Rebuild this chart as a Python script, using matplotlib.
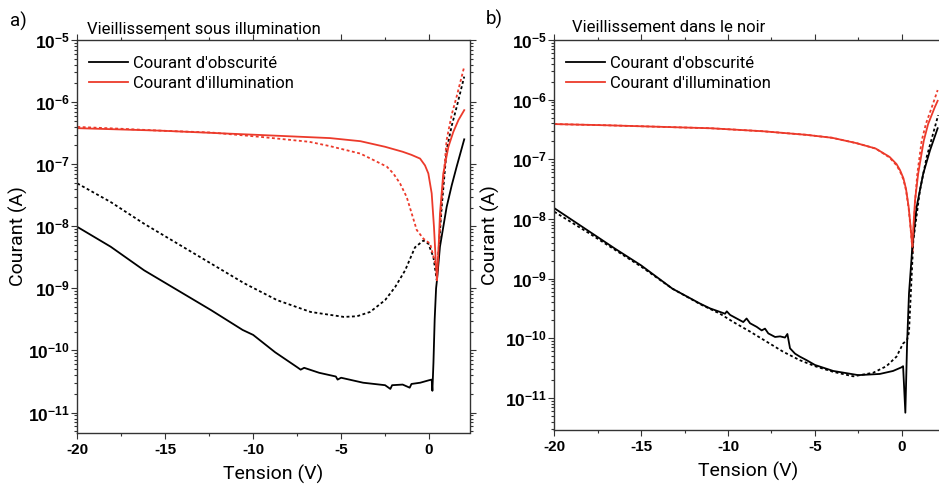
import numpy as np
import matplotlib
matplotlib.use("Agg")
import matplotlib.pyplot as plt
from matplotlib.ticker import FuncFormatter, FixedLocator, MultipleLocator, NullFormatter
from matplotlib.lines import Line2D

plt.rcParams['font.family'] = ['Roboto', 'DejaVu Sans']
plt.rcParams['axes.unicode_minus'] = False
plt.rcParams['mathtext.fontset'] = 'custom'
plt.rcParams['mathtext.rm'] = 'Liberation Sans'
plt.rcParams['mathtext.bf'] = 'Liberation Sans:bold'

# ---------------- data (V, log10 of current in A) ----------------
# (a) Vieillissement sous illumination
a_dark_solid_v = [-20, -18.1, -16.2, -14.3, -12.4, -10.6, -10, -8.75, -7.5, -7.3, -7.1, -6.25, -5.3, -5.2, -5.0,
                  -3.75, -2.5, -2.2, -2.1, -1.5, -1.1, -1.0, -0.5, 0, 0.15, 0.19, 0.25, 0.32, 0.4, 0.45,
                  0.62, 0.81, 1.0, 1.29, 1.57, 2.0]
a_dark_solid_log = [-8.01, -8.33, -8.71, -9.03, -9.35, -9.67, -9.75, -10.03, -10.27, -10.31, -10.28, -10.36, -10.42,
                    -10.47, -10.44, -10.52, -10.56, -10.62, -10.56, -10.55, -10.6, -10.54, -10.52, -10.48, -10.47,
                    -10.65, -10.2, -9.5, -9.0, -8.87, -8.33, -8.01, -7.69, -7.34, -7.04, -6.6]

a_dark_dot_v = [-20, -18.1, -16.2, -14.3, -12.4, -10.5, -8.64, -6.74, -4.85, -4.1, -3.35, -2.5, -1.93, -1.36,
                -0.8, -0.32, -0.04, 0.25, 0.44, 0.53, 0.72, 1.0, 1.29, 1.57, 2.0]
a_dark_dot_log = [-7.31, -7.61, -7.96, -8.28, -8.6, -8.92, -9.19, -9.38, -9.46, -9.45, -9.38, -9.19, -8.98, -8.71,
                  -8.34, -8.23, -8.28, -8.5, -8.87, -8.45, -7.69, -6.77, -6.38, -6.08, -5.59]

a_light_solid_v = [-20, -15.3, -9.6, -5.63, -3.9, -2.5, -1.5, -1.0, -0.51, -0.23, -0.04, 0.15, 0.28, 0.4, 0.45,
                   0.53, 0.62, 0.81, 1.1, 1.38, 1.67, 2.0]
a_light_solid_log = [-6.42, -6.46, -6.53, -6.58, -6.63, -6.72, -6.80, -6.85, -6.91, -7.02, -7.15, -7.47, -8.01,
                     -8.66, -8.87, -8.44, -7.8, -7.15, -6.72, -6.48, -6.29, -6.13]

a_light_dot_v = [-20, -17.5, -15.3, -12.4, -9.6, -6.8, -5.63, -3.9, -2.4, -2.03, -1.65, -1.27, -0.98, -0.7, -0.32,
                 0.06, 0.25, 0.47, 0.56, 0.72, 1.0, 1.29, 1.57, 2.0]
a_light_dot_log = [-6.40, -6.43, -6.46, -6.49, -6.56, -6.64, -6.71, -6.83, -7.04, -7.15, -7.31, -7.53, -7.80, -8.06,
                   -8.2, -8.28, -8.49, -8.71, -8.3, -7.58, -6.61, -6.2, -5.91, -5.43]

# (b) Vieillissement dans le noir
b_dark_solid_v = [-20, -17.94, -16.5, -15, -13.2, -11.61, -11.04, -10.46, -10.17, -10.07, -9.88, -9.5, -9.12, -8.93,
                  -8.73, -8.35, -8.06, -7.87, -7.68, -7.29, -7.0, -6.72, -6.58, -6.43, -6.14, -5.86, -5.47, -4.99,
                  -3.94, -2.5, -1.26, -0.5, -0.02, 0.08, 0.21, 0.31, 0.42, 0.56, 0.61, 0.86, 1.24, 1.63, 2.07]
b_dark_solid_log = [-7.82, -8.22, -8.5, -8.78, -9.17, -9.42, -9.50, -9.56, -9.59, -9.55, -9.61, -9.67, -9.73, -9.67,
                    -9.75, -9.81, -9.87, -9.84, -9.92, -9.98, -9.97, -9.99, -9.93, -10.17, -10.26, -10.31, -10.37,
                    -10.45, -10.55, -10.62, -10.60, -10.55, -10.49, -10.47, -11.25, -10.09, -9.25, -8.69, -8.47,
                    -7.80, -7.24, -6.85, -6.48]

b_dark_dot_v = [-20, -18, -15, -13.2, -11.6, -10.46, -9.69, -8.73, -7.77, -6.81, -5.86, -4.99, -3.94, -2.79, -1.64,
                -0.88, -0.3, 0.08, 0.31, 0.42, 0.5, 0.58, 0.67, 1.05, 1.44, 2.1]
b_dark_dot_log = [-7.88, -8.24, -8.8, -9.17, -9.43, -9.59, -9.73, -9.89, -10.06, -10.23, -10.37, -10.47, -10.565,
                  -10.64, -10.58, -10.47, -10.31, -10.09, -10.03, -9.9, -9.4, -8.91, -8.36, -7.52, -6.96, -6.26]

b_light_solid_v = [-20, -17, -14, -11, -8, -5.5, -4, -2.6, -1.5, -0.7, -0.3, -0.1, 0.1, 0.25, 0.4, 0.5, 0.61, 0.7,
                   0.77, 0.95, 1.27, 1.52, 1.9, 2.07]
b_light_solid_log = [-6.41, -6.43, -6.455, -6.48, -6.53, -6.59, -6.64, -6.73, -6.82, -6.96, -7.08, -7.18, -7.32, -7.5,
                     -7.8, -8.1, -8.47, -8.0, -7.68, -7.24, -6.69, -6.41, -6.13, -6.02]

b_light_dot_v = [-20, -17, -14, -11, -8, -5.5, -4, -2.6, -1.5, -0.7, -0.3, -0.1, 0.1, 0.25, 0.4, 0.5, 0.63, 0.72,
                 0.8, 0.9, 1.15, 1.4, 1.73, 2.07]
b_light_dot_log = [-6.41, -6.43, -6.455, -6.48, -6.53, -6.59, -6.64, -6.73, -6.82, -6.97, -7.1, -7.2, -7.34, -7.52,
                   -7.82, -8.12, -8.55, -8.0, -7.6, -7.24, -6.69, -6.4, -6.13, -5.84]

panel_titles = ["Vieillissement sous illumination", "Vieillissement dans le noir"]
panel_letters = ["a)", "b)"]
legend_labels = ["Courant d'obscurité", "Courant d'illumination"]
x_label = "Tension (V)"
y_label = "Courant (A)"
y_decades = [-11, -10, -9, -8, -7, -6, -5]

RED = '#EC3A2B'
BLACK = '#000000'
DOT = (0, (1.6, 1.4))

W, H = 939, 486
fig = plt.figure(figsize=(W / 100, H / 100), dpi=100)

def fx(px):
    return px / W

def fy(py):
    return 1 - py / H

ax_a = fig.add_axes([fx(77.3), fy(433), fx(469.5 - 77.3), (433 - 40) / H])
ax_b = fig.add_axes([fx(554.3), fy(430), fx(22.3 * 17.37), (430 - 40) / H])

def sci_fmt(val, pos):
    e = int(round(np.log10(val)))
    return r'$\mathbf{10^{%d}}$' % e

def style(ax, ymin, ylab_x):
    ax.set_yscale('log')
    ax.set_xlim(-20, 2.3)
    ax.set_ylim(ymin, 1e-5)
    ax.xaxis.set_major_locator(MultipleLocator(5))
    ax.xaxis.set_minor_locator(MultipleLocator(2.5))
    majors = [10.0 ** d for d in y_decades]
    minors = [m * 10.0 ** d for d in range(-12, -5) for m in range(2, 10) if ymin <= m * 10.0 ** d <= 1e-5]
    ax.yaxis.set_major_locator(FixedLocator(majors))
    ax.yaxis.set_minor_locator(FixedLocator(minors))
    ax.yaxis.set_major_formatter(FuncFormatter(sci_fmt))
    ax.yaxis.set_minor_formatter(NullFormatter())
    ax.tick_params(which='both', direction='out', top=True, right=True, color='#333333', width=0.8)
    ax.tick_params(which='major', length=4, pad=2)
    ax.tick_params(which='minor', length=2.2)
    ax.tick_params(axis='x', which='major', labelsize=11, pad=3)
    ax.tick_params(axis='y', which='major', labelsize=12.5, pad=1.5)
    for lab in ax.get_xticklabels():
        lab.set_fontfamily('Liberation Sans')
        lab.set_fontweight('bold')
    for sp in ax.spines.values():
        sp.set_color('#333333')
        sp.set_linewidth(1.0)
    ax.set_xlabel(x_label, fontsize=14, labelpad=6)
    ax.set_ylabel(y_label, fontsize=14)
    ax.yaxis.set_label_coords(ylab_x, 0.5)

def to_a(lst):
    return np.power(10.0, np.asarray(lst, dtype=float))

lw = 1.3
ax_a.plot(a_dark_dot_v, to_a(a_dark_dot_log), color=BLACK, lw=lw, ls=DOT)
ax_a.plot(a_light_dot_v, to_a(a_light_dot_log), color=RED, lw=lw, ls=DOT)
ax_a.plot(a_dark_solid_v, to_a(a_dark_solid_log), color=BLACK, lw=lw)
ax_a.plot(a_light_solid_v, to_a(a_light_solid_log), color=RED, lw=lw)
style(ax_a, 10 ** -11.33, -0.125)

ax_b.plot(b_dark_dot_v, to_a(b_dark_dot_log), color=BLACK, lw=lw, ls=DOT)
ax_b.plot(b_light_dot_v, to_a(b_light_dot_log), color=RED, lw=lw, ls=DOT)
ax_b.plot(b_dark_solid_v, to_a(b_dark_solid_log), color=BLACK, lw=lw)
ax_b.plot(b_light_solid_v, to_a(b_light_solid_log), color=RED, lw=lw)
style(ax_b, 10 ** -11.54, -0.14)

handles = [Line2D([], [], color=BLACK, lw=lw), Line2D([], [], color=RED, lw=lw)]
for ax in (ax_a, ax_b):
    ax.legend(handles, legend_labels, loc='upper left', bbox_to_anchor=(0.0, 0.99), frameon=False,
              fontsize=12, handlelength=2.3, handletextpad=0.3, labelspacing=0.3,
              borderaxespad=0.43, borderpad=0.3)

fig.text(fx(87), fy(33.5), panel_titles[0], fontsize=12, ha='left', va='baseline')
fig.text(fx(571.5), fy(32.5), panel_titles[1], fontsize=12, ha='left', va='baseline')
fig.text(fx(10), fy(27), panel_letters[0], fontsize=13.5, ha='left', va='baseline')
fig.text(fx(486), fy(25), panel_letters[1], fontsize=13.5, ha='left', va='baseline')

fig.savefig('out.png', dpi=100)
